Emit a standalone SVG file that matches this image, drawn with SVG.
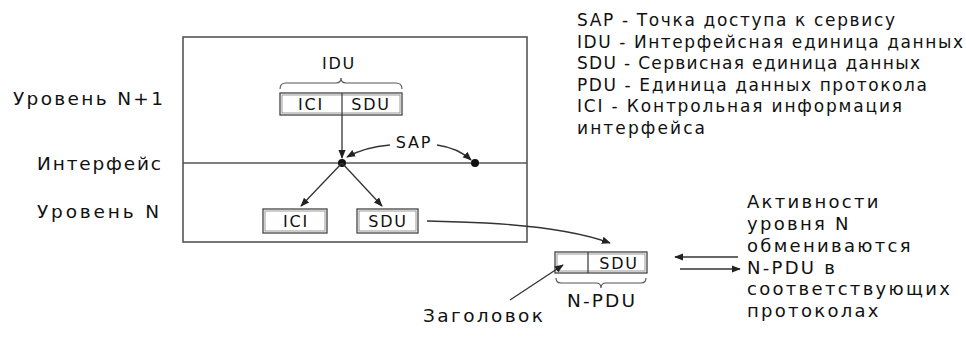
<svg xmlns="http://www.w3.org/2000/svg" width="966" height="343" viewBox="0 0 966 343">
<defs>
<style>
text{font-family:"DejaVu Sans","Verdana",sans-serif;font-size:17px;fill:#111;}
.lg{font-size:17px;}
.lb{font-size:18.5px;}
.ac{font-size:18px;letter-spacing:2.3px;}
.bt{font-size:16px;letter-spacing:1.8px;text-anchor:middle;}
.ln{stroke:#333;stroke-width:1.3;fill:none;}
.bx{fill:#fff;stroke:#444;stroke-width:1.3;}
.bxi{fill:none;stroke:#999;stroke-width:1;}
.br{stroke:#555;stroke-width:1.2;fill:none;}
</style>
<marker id="ah" viewBox="0 0 10 10" refX="9" refY="5" markerWidth="9" markerHeight="9" orient="auto" markerUnits="userSpaceOnUse">
<path d="M0,1 L10,5 L0,9 Z" fill="#222"/>
</marker>
</defs>
<rect width="966" height="343" fill="#fff"/>

<g id="layer-frame">
<rect x="183" y="37" width="344" height="205" fill="none" stroke="#555" stroke-width="1.6"/>
<line x1="183" y1="163" x2="527" y2="163" stroke="#555" stroke-width="1.3"/>
</g>

<g id="labels-left">
<text class="lb" x="13" y="105" textLength="150" lengthAdjust="spacing">Уровень N+1</text>
<text class="lb" x="37" y="170" textLength="124" lengthAdjust="spacing">Интерфейс</text>
<text class="lb" x="37" y="218" textLength="122" lengthAdjust="spacing">Уровень N</text>
</g>

<g id="idu">
<text class="bt" x="339" y="69">IDU</text>
<path class="br" d="M280,89 Q280,83 286,83 L336,83 Q341,83 341,78 Q341,83 346,83 L396,83 Q402,83 402,89"/>
<rect class="bx" x="280" y="93" width="122" height="22"/>
<rect class="bxi" x="282" y="95" width="118" height="18"/>
<line x1="342" y1="93" x2="342" y2="115" stroke="#444" stroke-width="1.3"/>
<text class="bt" x="311" y="110">ICI</text>
<text class="bt" x="371" y="110">SDU</text>
</g>

<g id="sap">
<text class="bt" x="414" y="148">SAP</text>
<circle cx="342" cy="163" r="4" fill="#111"/>
<circle cx="475" cy="163" r="4" fill="#111"/>
</g>

<g id="ici-n">
<rect class="bx" x="263" y="209" width="64" height="24"/>
<rect class="bxi" x="265" y="211" width="60" height="20"/>
<text class="bt" x="296" y="227">ICI</text>
</g>

<g id="sdu-n">
<rect class="bx" x="357" y="209" width="61" height="24"/>
<rect class="bxi" x="359" y="211" width="57" height="20"/>
<text class="bt" x="388" y="227">SDU</text>
</g>

<g id="npdu">
<rect class="bx" x="555" y="252" width="92" height="21"/>
<rect class="bxi" x="557" y="254" width="88" height="17"/>
<line x1="588" y1="252" x2="588" y2="273" stroke="#444" stroke-width="1.3"/>
<text class="bt" x="619" y="269">SDU</text>
<path class="br" d="M556,278 Q556,283 561,283 L596,283 Q601,283 601,288 Q601,283 606,283 L641,283 Q646,283 646,278"/>
<text class="lb" x="567" y="307" textLength="68" lengthAdjust="spacing">N-PDU</text>
</g>

<g id="header-label">
<text class="lb" x="423" y="322" textLength="120" lengthAdjust="spacing">Заголовок</text>
</g>

<g id="legend">
<text class="lg" x="577" y="26" textLength="318" lengthAdjust="spacing">SAP - Точка доступа к сервису</text>
<text class="lg" x="577" y="48" textLength="386" lengthAdjust="spacing">IDU - Интерфейсная единица данных</text>
<text class="lg" x="577" y="69" textLength="343" lengthAdjust="spacing">SDU - Сервисная единица данных</text>
<text class="lg" x="577" y="91" textLength="350" lengthAdjust="spacing">PDU - Единица данных протокола</text>
<text class="lg" x="577" y="112" textLength="325" lengthAdjust="spacing">ICI - Контрольная информация</text>
<text class="lg" x="577" y="134" textLength="128" lengthAdjust="spacing">интерфейса</text>
</g>

<g id="activity-note">
<text class="ac" x="747" y="208">Активности</text>
<text class="ac" x="747" y="230">уровня N</text>
<text class="ac" x="747" y="252">обмениваются</text>
<text class="ac" x="747" y="274">N-PDU в</text>
<text class="ac" x="747" y="295">соответствующих</text>
<text class="ac" x="747" y="317">протоколах</text>
</g>

<g id="connectors">
<line class="ln" x1="342" y1="115" x2="342" y2="158" marker-end="url(#ah)"/>
<path class="ln" d="M390,145 Q365,147 347,157" marker-end="url(#ah)"/>
<path class="ln" d="M437,145 Q458,148 471,160" marker-end="url(#ah)"/>
<line class="ln" x1="342" y1="163" x2="301" y2="206" marker-end="url(#ah)"/>
<line class="ln" x1="342" y1="163" x2="382" y2="206" marker-end="url(#ah)"/>
<path class="ln" d="M427,221 L460,222 Q560,225 610,243" marker-end="url(#ah)"/>
<line class="ln" x1="510" y1="300" x2="563" y2="265" marker-end="url(#ah)"/>
<line class="ln" x1="738" y1="257" x2="675" y2="257" marker-end="url(#ah)"/>
<line class="ln" x1="680" y1="269" x2="740" y2="269" marker-end="url(#ah)"/>
</g>
</svg>
